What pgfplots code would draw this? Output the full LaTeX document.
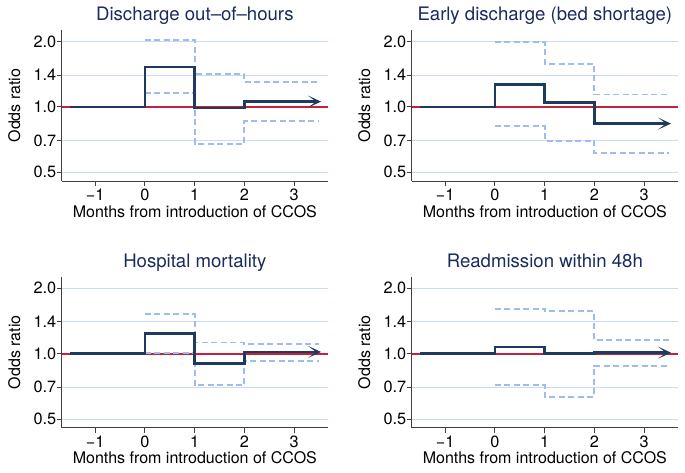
\documentclass[border=0pt]{standalone}
\usepackage{pgfplots}
\pgfplotsset{compat=1.18}
\usetikzlibrary{arrows.meta}
\usepackage{fontspec}
\setmainfont{TeX Gyre Heros}
\definecolor{navy}{HTML}{1F3A5F}
\definecolor{ci}{HTML}{9DBDEE}
\definecolor{gridc}{HTML}{CBDBF7}
\definecolor{redl}{HTML}{C8203A}
\definecolor{titlec}{HTML}{1A2B5E}
\pgfplotsset{
  oddspanel/.style={
    scale only axis, width=266.3pt, height=151pt,
    xmin=-1.67, xmax=3.68, ymin=0.456, ymax=2.26,
    axis x line*=bottom, axis y line*=left,
    axis line style={line width=0.9pt, black!75, -},
    xtick={-1,0,1,2,3}, xticklabels={−1,0,1,2,3},
    ytick={0.5,0.7,1,1.4,2}, yticklabels={0.5,0.7,1.0,1.4,2.0},
    yminorticks=false, xminorticks=false,
    tick align=outside, major tick length=5pt,
    tick style={line width=0.9pt, black!75},
    ymajorgrids, grid style={gridc, line width=1pt},
    ticklabel style={font=\fontsize{16.3}{18}\selectfont},
    yticklabel style={xshift=3pt},
    xticklabel style={anchor=base, inner sep=0pt, yshift=-14.7pt},
    label style={font=\fontsize{16}{18}\selectfont},
    title style={font=\fontsize{18.6}{20}\selectfont, color=titlec, at={(axis description cs:0.5,1)}, anchor=base, yshift=3.5pt},
    xlabel={Months from introduction of CCOS},
    ylabel={Odds ratio},
    xlabel style={at={(axis description cs:0.5,-0.2404)}, anchor=base},
    ylabel style={at={(axis description cs:-0.1784,0.5)}, anchor=center},
  },
  redline/.style={redl, line width=2.2pt},
  cil/.style={ci, line width=1.8pt, dash pattern=on 6pt off 3.5pt},
  est/.style={navy, line width=2.4pt, -{Stealth[length=13pt,width=12pt,inset=8pt]}},
}
\begin{document}
\begin{tikzpicture}
\useasboundingbox (0,0) rectangle (685pt,473pt);
% Panel 1
\begin{axis}[ymode=log, oddspanel, at={(61.7pt,292pt)}, anchor=south west, title={Discharge out--of--hours}]
\addplot[redline] coordinates {(-1.67,1) (3.68,1)};
\addplot[cil] coordinates {(0,2.04) (1,2.04) (1,1.42) (2,1.42) (2,1.30) (3.5,1.30)};
\addplot[cil] coordinates {(0,1.16) (1,1.16) (1,0.675) (2,0.675) (2,0.862) (3.5,0.862)};
\addplot[est] coordinates {(-1.5,1) (0,1) (0,1.53) (1,1.53) (1,0.986) (2,0.986) (2,1.058) (3.54,1.058)};
\end{axis}
% Panel 2
\begin{axis}[ymode=log, oddspanel, at={(411.7pt,292pt)}, anchor=south west, title={Early discharge (bed shortage)}]
\addplot[redline] coordinates {(-1.67,1) (3.68,1)};
\addplot[cil] coordinates {(0,1.99) (1,1.99) (1,1.58) (2,1.58) (2,1.14) (3.5,1.14)};
\addplot[cil] coordinates {(0,0.817) (1,0.817) (1,0.699) (2,0.699) (2,0.614) (3.5,0.614)};
\addplot[est] coordinates {(-1.5,1) (0,1) (0,1.27) (1,1.27) (1,1.047) (2,1.047) (2,0.838) (3.54,0.838)};
\end{axis}
% Panel 3
\begin{axis}[ymode=log, oddspanel, at={(61.7pt,45.3pt)}, anchor=south west, title={Hospital mortality}]
\addplot[redline] coordinates {(-1.67,1) (3.68,1)};
\addplot[cil] coordinates {(0,1.52) (1,1.52) (1,1.124) (2,1.124) (2,1.108) (3.5,1.108)};
\addplot[cil] coordinates {(0,1.003) (1,1.003) (1,0.715) (2,0.715) (2,0.922) (3.5,0.922)};
\addplot[est] coordinates {(-1.5,1) (0,1) (0,1.236) (1,1.236) (1,0.90) (2,0.90) (2,1.018) (3.54,1.018)};
\end{axis}
% Panel 4
\begin{axis}[ymode=log, oddspanel, at={(411.7pt,45.3pt)}, anchor=south west, title={Readmission within 48h}]
\addplot[redline] coordinates {(-1.67,1) (3.68,1)};
\addplot[cil] coordinates {(0,1.61) (1,1.61) (1,1.57) (2,1.57) (2,1.156) (3.5,1.156)};
\addplot[cil] coordinates {(0,0.718) (1,0.718) (1,0.632) (2,0.632) (2,0.878) (3.5,0.878)};
\addplot[est] coordinates {(-1.5,1) (0,1) (0,1.073) (1,1.073) (1,1.0) (2,1.0) (2,1.01) (3.54,1.01)};
\end{axis}
\end{tikzpicture}
\end{document}
